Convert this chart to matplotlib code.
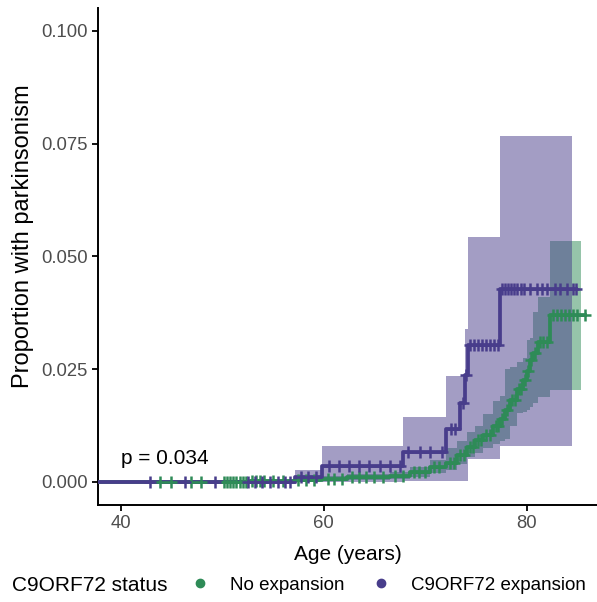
import numpy as np
import matplotlib.pyplot as plt
from matplotlib.lines import Line2D

plt.rcParams['font.family'] = ['Liberation Sans', 'DejaVu Sans']

# cumulative incidence, C9ORF72 expansion carriers (step starts, estimate, 95% band)
c9_age = [37.75, 57.2, 59.8, 67.8, 72.1, 73.4, 73.9, 74.2, 77.4]
c9_est = [0.0, 0.0010, 0.0036, 0.0066, 0.0117, 0.0175, 0.0237, 0.0304, 0.0427]
c9_lo = [0.0, 0.0, 0.0, 0.0003, 0.0003, 0.0003, 0.0003, 0.0050, 0.0080]
c9_hi = [0.0, 0.0027, 0.0080, 0.0145, 0.0235, 0.0235, 0.0340, 0.0544, 0.0767]
c9_line_end = 84.9
c9_band_end = 84.5
c9_censor = [42.9, 46.3, 49.3, 52.5, 53.2, 53.9, 54.7, 55.5, 56.2, 56.7,
             57.8, 58.5, 59.2, 60.5, 61.5, 62.5, 63.5, 64.5, 65.5, 66.5, 67.5,
             68.3, 69.5, 70.5, 71.7, 72.5, 72.9, 73.7, 74.0,
             74.4, 74.8, 75.2, 75.6, 76.0, 76.4, 76.8, 77.2,
             77.6, 77.9, 78.2, 78.5, 78.8, 79.1, 79.4, 79.7,
             80.3, 81.0, 81.5, 82.0, 82.8, 83.3, 84.0, 84.6, 84.9]

# no expansion group
ne_age = [37.75, 52.7, 57.2, 59.8, 62.3, 66.5, 68.5, 70.5, 72.1, 73.1, 74.1, 74.9,
          75.7, 76.7, 77.4, 77.9, 78.4, 79.1, 79.6, 80.0, 80.3, 80.6, 81.1, 82.3]
ne_est = [0.0, 0.0002, 0.0004, 0.0007, 0.0011, 0.0014, 0.0022, 0.0033, 0.0043, 0.0060,
          0.0078, 0.0092, 0.0105, 0.0125, 0.0140, 0.0160, 0.0182, 0.0205, 0.0225,
          0.0245, 0.0270, 0.0286, 0.0311, 0.0370]
ne_lo = [0.0, 0.0, 0.0001, 0.0002, 0.0004, 0.0006, 0.0011, 0.0019, 0.0027, 0.0040,
         0.0055, 0.0065, 0.0075, 0.0085, 0.0090, 0.0095, 0.0123, 0.0153, 0.0155,
         0.0160, 0.0167, 0.0175, 0.0189, 0.0204]
ne_hi = [0.0, 0.0006, 0.0009, 0.0013, 0.0018, 0.0023, 0.0033, 0.0048, 0.0075, 0.0090,
         0.0110, 0.0125, 0.0150, 0.0180, 0.0190, 0.0250, 0.0255, 0.0265, 0.0275,
         0.0315, 0.0320, 0.0377, 0.0410, 0.0534]
ne_line_end = 85.8
ne_band_end = 85.4
ne_censor = [43.9, 44.9, 46.9, 47.9, 50.2, 50.5, 50.8, 51.1, 51.4, 51.7, 52.0, 52.3,
             52.9, 53.3, 53.7, 54.1, 55.0, 56.0, 57.5, 58.3, 59.0, 60.4, 61.0, 61.8,
             62.8, 63.5, 64.2, 65.0, 65.8, 67.0, 67.8, 68.9, 69.4, 70.0, 70.9, 71.4,
             72.4, 72.8, 73.4, 73.8, 74.4, 74.7, 75.2, 75.5, 76.0, 76.4, 77.0, 77.2,
             77.6, 78.1, 78.6, 78.9, 79.3, 79.4, 79.8, 80.1, 80.4, 80.8, 81.3, 81.6,
             82.0, 82.6, 83.0, 83.4, 83.8, 84.2, 84.6, 85.0, 85.8]

groups = ['No expansion', 'C9ORF72 expansion']
green = '#2E8B57'
purple = '#483D8B'


def at(ages, vals, t):
    i = np.searchsorted(ages, t, side='right') - 1
    return np.asarray(vals)[i]


def draw(ax, ages, est, lo, hi, line_end, band_end, cens, col, z):
    bx = list(ages) + [band_end]
    ax.fill_between(bx, list(lo) + [lo[-1]], list(hi) + [hi[-1]], step='post',
                    color=col, alpha=0.5, lw=0, zorder=z)
    ax.step(list(ages) + [line_end], list(est) + [est[-1]], where='post',
            color=col, lw=2.7, zorder=z + 2)
    c = np.array(cens)
    ax.plot(c, at(ages, est, c), ls='none', marker='+', ms=8.5, mew=1.8,
            color=col, zorder=z + 4)


fig = plt.figure(figsize=(5.97, 6.02), dpi=100)
ax = fig.add_axes([98 / 597, 97.5 / 602, 499 / 597, 496.1 / 602])

draw(ax, ne_age, ne_est, ne_lo, ne_hi, ne_line_end, ne_band_end, ne_censor, green, 1)
draw(ax, c9_age, c9_est, c9_lo, c9_hi, c9_line_end, c9_band_end, c9_censor, purple, 2)

ax.set_xlim(37.75, 86.94)
ax.set_ylim(-0.005, 0.105)
ax.set_xticks([40, 60, 80])
ax.set_yticks([0, 0.025, 0.05, 0.075, 0.1])
ax.set_yticklabels(['0.000', '0.025', '0.050', '0.075', '0.100'])
for s in ['top', 'right']:
    ax.spines[s].set_visible(False)
for s in ['left', 'bottom']:
    ax.spines[s].set_linewidth(1.4)
ax.tick_params(length=4.5, width=1.3, labelsize=13.3, labelcolor='#4D4D4D', pad=3)

ax.set_xlabel('Age (years)', fontsize=15, va='center')
ax.xaxis.set_label_coords(0.5, -0.0998)
ax.set_ylabel('Proportion with parkinsonism', fontsize=17, va='center')
ax.yaxis.set_label_coords(-0.1513, 0.54)

ax.text(40, 0.0052, 'p = 0.034', fontsize=15, ha='left', va='center')

fig.text(12 / 597, 0.028, 'C9ORF72 status', fontsize=15, va='center')
handles = [Line2D([], [], ls='none', marker='o', ms=6, color=c) for c in (green, purple)]
fig.legend(handles, groups, loc='center left', bbox_to_anchor=(190.6 / 597, 0.028),
           ncol=2, frameon=False, fontsize=13.5, handlelength=1.0,
           handletextpad=1.1, columnspacing=1.47, borderpad=0, borderaxespad=0)

fig.savefig('out.png', dpi=100)
